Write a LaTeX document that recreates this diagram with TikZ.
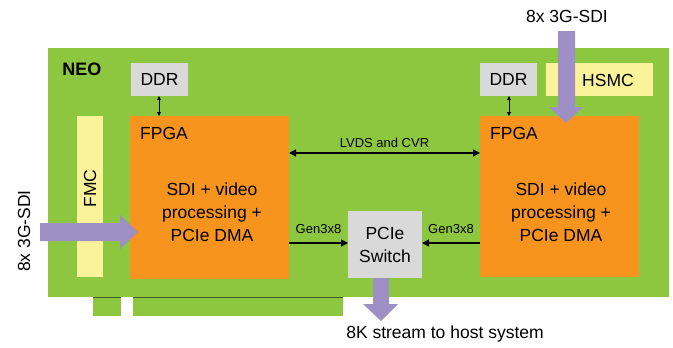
\documentclass[tikz,border=0pt]{standalone}
\usepackage{fontspec}
\setmainfont{Liberation Sans}
\usetikzlibrary{arrows.meta}
\definecolor{board}{HTML}{8DC63F}
\definecolor{fpgaor}{HTML}{F7941D}
\definecolor{ddrgray}{HTML}{D9D9D9}
\definecolor{fmcyel}{HTML}{FAF39A}
\definecolor{sdipur}{HTML}{9E8FC5}
\definecolor{edge}{HTML}{3E5A1E}
\tikzset{
  big/.style={font=\fontsize{17.5}{23}\selectfont},
  small/.style={font=\fontsize{13}{15}\selectfont},
  box/.style={draw=none, inner sep=0pt, outer sep=0pt, big},
  lnk/.style={-{Triangle[length=7pt,width=7pt]}, line width=1.1pt, black},
  dlnk/.style={{Triangle[length=4pt,width=4pt]}-{Triangle[length=4pt,width=4pt]}, line width=1pt, black},
  fat/.style={fill=sdipur, draw=none},
}
\begin{document}
\begin{tikzpicture}[x=1pt,y=-1pt]
\useasboundingbox (0,0) rectangle (673,348);
% board and edge fingers
\fill[board] (93,296) rectangle (121,316);
\fill[board] (133,296) rectangle (343,316);
\fill[edge] (93,296) rectangle (121,298);
\fill[edge] (133,296) rectangle (343,298);
\node[box, fill=board, minimum width=621pt, minimum height=249pt, anchor=north west] (brd) at (48,48) {};
\node[font=\fontsize{18}{20}\selectfont\bfseries] (neo) at (82,69) {NEO};
% left side
\node[box, fill=ddrgray, minimum width=57pt, minimum height=33pt, anchor=north west] (ddrl) at (131,63) {DDR};
\node[box, fill=fmcyel, minimum width=26pt, minimum height=161pt, anchor=north west] (fmc) at (77,116) {};
\node[big, rotate=90] (fmct) at ([yshift=8pt]fmc.center) {FMC};
\node[box, fill=fpgaor, minimum width=159pt, minimum height=163pt, anchor=north west] (fpgal) at (130,116) {};
\node[big, anchor=west, inner sep=0pt] (fpgalt) at (140,133) {FPGA};
\node[big, align=center, inner sep=0pt] (procl) at (212,212) {SDI + video\\processing +\\PCIe DMA};
% right side
\node[box, fill=ddrgray, minimum width=57pt, minimum height=33pt, anchor=north west] (ddrr) at (480,63) {DDR};
\node[box, fill=fmcyel, minimum width=107pt, minimum height=33pt, anchor=north west] (hsmc) at (546,63) {};
\node[big, inner sep=0pt] (hsmct) at (608,80) {HSMC};
\node[box, fill=fpgaor, minimum width=159pt, minimum height=161pt, anchor=north west] (fpgar) at (480,116) {};
\node[big, anchor=west, inner sep=0pt] (fpgart) at (490,133) {FPGA};
\node[big, align=center, inner sep=0pt] (procr) at (561,212) {SDI + video\\processing +\\PCIe DMA};
% switch
\node[box, fill=ddrgray, minimum width=74pt, minimum height=67pt, anchor=north west, align=center] (sw) at (348,211) {PCIe\\Switch};
% links
\draw[dlnk] (ddrl.south -| 159,0) -- (fpgal.north -| 159,0);
\draw[dlnk] (ddrr.south -| 509,0) -- (fpgar.north -| 509,0);
\draw[lnk, {Triangle[length=7pt,width=7pt]}-{Triangle[length=7pt,width=7pt]}] (fpgal.east |- 0,153) -- node[small, above, inner sep=0pt, yshift=5pt] (lvds) {LVDS and CVR} (fpgar.west |- 0,153);
\draw[lnk] (fpgal.east |- 0,243) -- node[small, above, inner sep=0pt, yshift=9pt] (g1) {Gen3x8} (sw.west |- 0,243);
\draw[lnk] (fpgar.west |- 0,243) -- node[small, above, inner sep=0pt, yshift=9pt] (g2) {Gen3x8} (sw.east |- 0,243);
% fat SDI arrows
\coordinate (inl) at (40,232);
\fill[fat] (40,223) -- (120,223) -- (120,215) -- (138,232) -- (120,249) -- (120,241) -- (40,241) -- cycle;
\node[big, rotate=90, inner sep=0pt] (inlt) at (24,231) {8x 3G-SDI};
\node[big, inner sep=0pt] (intop) at (567,16) {8x 3G-SDI};
\fill[fat] (558,31) -- (575,31) -- (575,107) -- (583,107) -- (566,123) -- (549,107) -- (558,107) -- cycle;
\fill[fat] (373,278) -- (389,278) -- (389,304) -- (398,304) -- (381,321) -- (363,304) -- (373,304) -- cycle;
\node[big, inner sep=0pt] (host) at (445,334) {8K stream to host system};
\end{tikzpicture}
\end{document}
